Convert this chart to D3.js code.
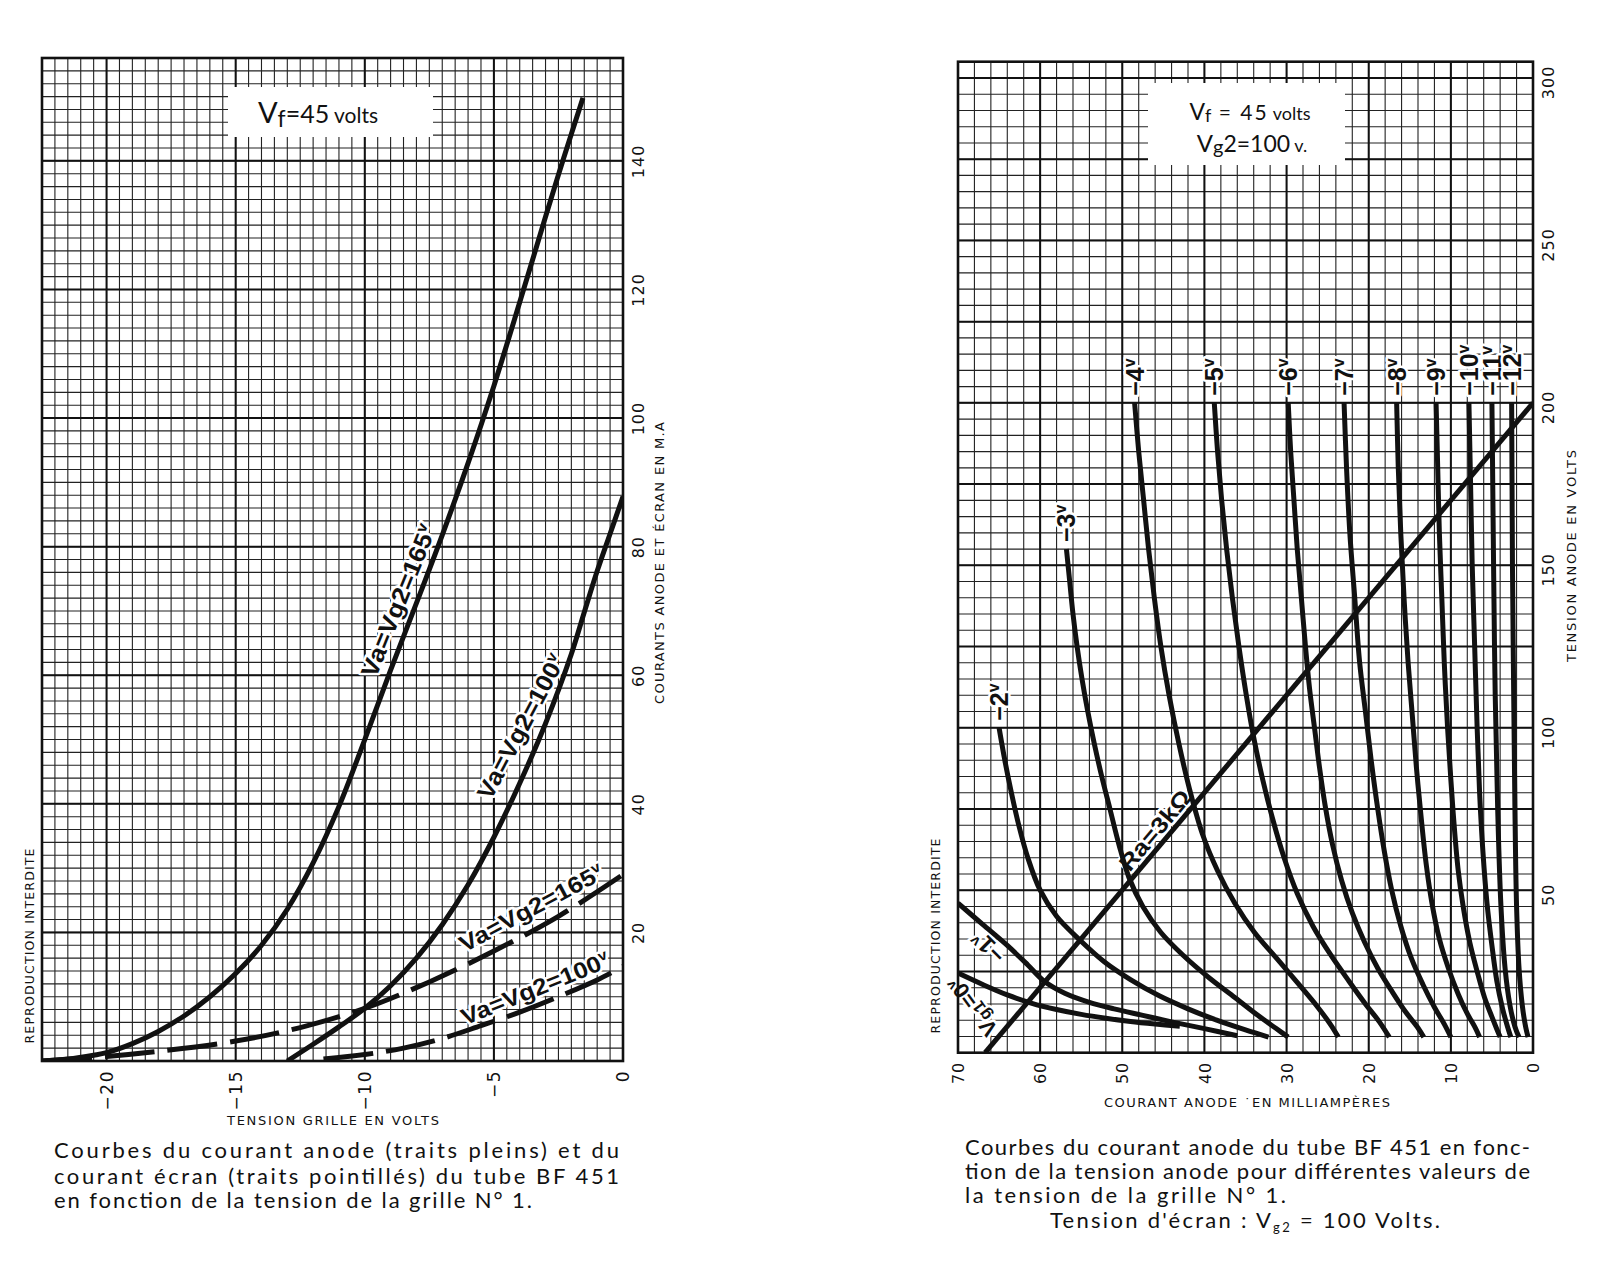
<!DOCTYPE html>
<html>
<head>
<meta charset="utf-8">
<script src="https://cdn.jsdelivr.net/npm/d3@7"></script>
<style>
  body { margin: 0; background: #fff; }
  svg { display: block; }
  .minor { stroke: #222; stroke-width: 1.1; }
  .major { stroke: #111; stroke-width: 2; }
  .frame { fill: none; stroke: #111; stroke-width: 2.6; }
  .curve { fill: none; stroke: #111; stroke-width: 5; stroke-linecap: butt; }
</style>
</head>
<body>
<div id="chart"></div>
<script>
'use strict';

// ---- left plate: grid voltage (V) against anode / screen current (mA)
const anode165 = [[-22.5,0],[-21.5,0.3],[-20.5,0.9],[-20,1.3],[-19,2.7],[-18,4.6],[-17,7],[-16,10],
  [-15,13.6],[-14,18],[-13,23.6],[-12,30.8],[-11,39.6],[-10,50],[-9,60.8],[-8,71.2],[-7,81.8],
  [-6,93],[-5,105],[-4,118],[-3,131.3],[-2.3,140.4],[-1.55,149.8]];
const anode100 = [[-13,0],[-12,2.6],[-11,5.3],[-10,8.2],[-9,11.7],[-8,16],[-7,21.2],[-6,27.4],
  [-5,34.8],[-4,43.2],[-3,52.5],[-2,63.3],[-1.5,69.8],[-1,76.2],[-0.5,82],[0,87.8]];
const screen165 = [[-22.5,0],[-20,0.7],[-18,1.5],[-15,3.1],[-12.5,5.2],[-10,8.2],[-7.5,12.3],
  [-5,17.1],[-2.5,22.5],[0,29]];
const screen100 = [[-11.6,0.3],[-10,1],[-8.5,2],[-7,3.5],[-5.5,5.5],[-4,7.6],[-2.5,10],[-1,12.6],[0,14.7]];
const leftXTicks = [-20, -15, -10, -5, 0];
const leftYTicks = [20, 40, 60, 80, 100, 120, 140];

// ---- right plate: anode current (mA) against anode voltage (V), one curve per grid bias
const vg0 = [[70,24.5],[67,21],[64,17.8],[61,15.2],[58,13.3],[55,11.8],[52,10.6],[49,9.6],[46,8.8],[43,8.1]];
const vg1 = [[70,46],[67,39.5],[64,33],[61.5,27],[59.5,22],[57,18.3],[54,15.5],[51,13.5],[47.5,11.5],
  [44,9.5],[40,7.4],[36,5.2]];
const vg2 = [[65,100],[64.3,90],[63.5,80],[62.6,70],[61.5,60],[60,50],[58,42],[55.3,35],[52.2,28],
  [49,22.5],[45.5,17.5],[42,13.5],[38.5,10],[35,7],[32.2,4.8]];
const vg3 = [[56.8,155],[56.4,145],[56,135],[55.5,125],[54.9,115],[54.2,105],[53.4,95],[52.5,85],
  [51.5,75],[50.4,64],[49.2,54],[47.5,45],[45.3,37],[42.6,30],[39.4,23],[36.3,17],[33.5,11.5],[31.3,7.5],[29.8,4.8]];
const vg4 = [[48.5,200],[48,185],[47.4,170],[46.8,155],[46.1,140],[45.3,125],[44.3,110],[43.1,95],
  [41.8,81],[40.2,67],[38.4,56],[36.3,46],[33.9,37],[31.2,29],[28.5,21],[26.2,14],[24.6,8.5],[23.7,4.8]];
const vg5 = [[38.8,200],[38.4,185],[37.9,170],[37.3,155],[36.6,140],[35.8,125],[34.9,110],[34,97],
  [32.9,84],[31.7,72],[30.3,60],[28.7,49],[26.8,39],[24.6,30],[22.4,22],[20.4,15],[18.7,9.5],[17.5,4.8]];
const vg6 = [[29.8,200],[29.5,185],[29.1,170],[28.7,155],[28.2,140],[27.7,125],[27.2,112],[26.6,100],
  [26,88],[25.3,76],[24.4,64],[23.3,53],[22,43],[20.5,34],[18.9,26],[17.2,19],[15.5,12.5],[14.1,8],[13.3,4.8]];
const vg7 = [[23,200],[22.7,180],[22.3,160],[21.7,140],[21.1,120],[20.4,105],[19.7,90],[18.9,75],
  [18.1,62],[17.2,50],[16.1,39],[14.8,29],[13.4,21],[12,14],[10.8,8.8],[10,4.8]];
const vg8 = [[16.6,200],[16.4,180],[16.1,160],[15.7,140],[15.2,120],[14.7,104],[14.2,88],[13.6,72],
  [13,58],[12.3,46],[11.4,35],[10.3,26],[9.1,18],[8,12],[7.1,8],[6.5,4.8]];
const vg9 = [[11.8,200],[11.6,180],[11.4,160],[11.1,140],[10.8,120],[10.4,100],[10,84],[9.6,70],
  [9.1,56],[8.5,45],[7.7,34],[6.8,25],[5.9,17],[5,11],[4.4,7.2],[4,4.8]];
const vg10 = [[7.8,200],[7.6,175],[7.4,150],[7.1,125],[6.8,100],[6.5,80],[6.1,62],[5.6,46],[5,33],
  [4.4,22],[3.7,13.5],[3.1,8],[2.7,4.8]];
const vg11 = [[5,200],[4.9,175],[4.8,150],[4.6,110],[4.3,75],[3.9,45],[3.4,26],[2.8,14.5],[2.2,8],[1.7,4.8]];
const vg12 = [[2.6,200],[2.55,175],[2.5,150],[2.35,110],[2.2,75],[2,45],[1.7,26],[1.3,14.5],[0.9,8],[0.6,4.8]];
const biasCurves = [vg0, vg1, vg2, vg3, vg4, vg5, vg6, vg7, vg8, vg9, vg10, vg11, vg12];
const biasNames = ['0', '−1', '−2', '−3', '−4', '−5', '−6', '−7', '−8', '−9', '−10', '−11', '−12'];
const loadLine = [[66.7,0],[0,200]];
const rightXTicks = [70, 60, 50, 40, 30, 20, 10, 0];
const rightYTicks = [50, 100, 150, 200, 250, 300];

const W = 1613, H = 1265;
const tickFont = "'DejaVu Sans', sans-serif";
const capFont = "Lato, 'Open Sans', sans-serif";
const markFont = "'Liberation Sans', Arial, sans-serif";

const svg = d3.select('#chart').append('svg').attr('width', W).attr('height', H);
svg.append('rect').attr('width', W).attr('height', H).attr('fill', '#fff');

const xL = d3.scaleLinear().domain([-22.5, 0]).range([42, 623]);
const yL = d3.scaleLinear().domain([0, 156]).range([1061, 58]);
const xR = d3.scaleLinear().domain([70, 0]).range([958, 1533]);
const yR = d3.scaleLinear().domain([0, 305]).range([1052.7, 61.7]);

function drawGrid(x, y, xMinor, xMajor, yMinor, yMajor, clipId) {
    const g = svg.append('g');
    const [xa, xb] = x.range(), [ya, yb] = y.range();

    g.append('g').selectAll('line').data(xMinor).join('line').attr('class', 'minor')
        .attr('x1', d => x(d)).attr('x2', d => x(d)).attr('y1', ya).attr('y2', yb);
    g.append('g').selectAll('line').data(yMinor).join('line').attr('class', 'minor')
        .attr('y1', d => y(d)).attr('y2', d => y(d)).attr('x1', xa).attr('x2', xb);
    g.append('g').selectAll('line').data(xMajor).join('line').attr('class', 'major')
        .attr('x1', d => x(d)).attr('x2', d => x(d)).attr('y1', ya).attr('y2', yb);
    g.append('g').selectAll('line').data(yMajor).join('line').attr('class', 'major')
        .attr('y1', d => y(d)).attr('y2', d => y(d)).attr('x1', xa).attr('x2', xb);

    svg.append('clipPath').attr('id', clipId).append('rect')
        .attr('x', Math.min(xa, xb)).attr('y', Math.min(ya, yb))
        .attr('width', Math.abs(xb - xa)).attr('height', Math.abs(yb - ya));
    return g;
}

function drawFrame(x, y) {
    const [xa, xb] = x.range(), [ya, yb] = y.range();
    svg.append('rect').attr('class', 'frame')
        .attr('x', Math.min(xa, xb)).attr('y', Math.min(ya, yb))
        .attr('width', Math.abs(xb - xa)).attr('height', Math.abs(yb - ya));
}

// bold text with a white halo, optional small raised "v"
function mark(g, txt, sup, px, py, angle, size, len) {
    const t = g.append('text')
        .attr('transform', `translate(${px},${py}) rotate(${angle})`)
        .attr('font-family', markFont).attr('font-weight', 'bold').attr('font-size', size)
        .attr('text-anchor', 'middle').attr('dy', '0.35em')
        .attr('fill', '#111').attr('stroke', '#fff').attr('stroke-width', 5)
        .attr('stroke-linejoin', 'round').attr('paint-order', 'stroke');
    if (len) t.attr('textLength', len).attr('lengthAdjust', 'spacingAndGlyphs');
    t.append('tspan').text(txt);
    if (sup) t.append('tspan').attr('font-size', size * 0.62).attr('dy', -size * 0.38).text(sup);
    return t;
}

// ================= left plate =================
const gridL = drawGrid(xL, yL,
    d3.range(-22.5, 0.01, 0.5), [-20, -15, -10, -5],
    d3.range(0, 156.1, 2), leftYTicks, 'clipL');

// title box
gridL.append('rect').attr('x', 228).attr('y', 87).attr('width', 205).attr('height', 50).attr('fill', '#fff');
const ttlL = svg.append('text').attr('x', 318).attr('y', 123).attr('text-anchor', 'middle')
    .attr('font-family', capFont).attr('fill', '#111');
ttlL.append('tspan').attr('font-size', 29).text('V');
ttlL.append('tspan').attr('font-size', 23).attr('dy', 4).text('f');
ttlL.append('tspan').attr('font-size', 25).attr('dy', -4).text('=45');
ttlL.append('tspan').attr('font-size', 21).text(' volts');

const lineL = d3.line().x(d => xL(d[0])).y(d => yL(d[1])).curve(d3.curveCatmullRom.alpha(0.5));

const labL = svg.append('g');
mark(labL, 'Va=Vg2=165', 'v', xL(-8.7), yL(71.6), -68, 24, 162);
mark(labL, 'Va=Vg2=100', 'v', xL(-3.95), yL(52), -62, 24, 160);
mark(labL, 'Va=Vg2=165', 'v', xL(-3.55), yL(23.8), -28, 23, 160);
mark(labL, 'Va=Vg2=100', 'v', xL(-3.4), yL(11.3), -22, 23, 158);

const curvesL = svg.append('g').attr('clip-path', 'url(#clipL)');
[anode165, anode100].forEach(s => curvesL.append('path').attr('class', 'curve').attr('d', lineL(s)));
[screen165, screen100].forEach(s => curvesL.append('path').attr('class', 'curve')
    .attr('stroke-dasharray', '50,13').attr('d', lineL(s)));

drawFrame(xL, yL);

const axLB = svg.append('g').attr('transform', `translate(0,${yL(0)})`)
    .call(d3.axisBottom(xL).tickValues(leftXTicks).tickSize(0).tickFormat(d => d < 0 ? '−' + (-d) : d));
axLB.select('.domain').remove();
axLB.attr('font-family', tickFont).attr('font-size', 17);
axLB.selectAll('text').attr('transform', 'rotate(-90)').attr('x', -9).attr('y', 0)
    .attr('dy', '0.35em').attr('text-anchor', 'end').attr('letter-spacing', 1.5).attr('fill', '#111');

const axLR = svg.append('g').attr('transform', `translate(${xL(0)},0)`)
    .call(d3.axisRight(yL).tickValues(leftYTicks).tickSize(0));
axLR.select('.domain').remove();
axLR.attr('font-family', tickFont).attr('font-size', 16);
axLR.selectAll('text').attr('transform', 'translate(15,0) rotate(-90)').attr('x', 0).attr('y', 0)
    .attr('dy', '0.35em').attr('text-anchor', 'middle').attr('letter-spacing', 1).attr('fill', '#111');

svg.append('text').attr('x', 333).attr('y', 1125).attr('text-anchor', 'middle')
    .attr('font-family', tickFont).attr('font-size', 13).attr('textLength', 212)
    .attr('fill', '#111').text('TENSION GRILLE EN VOLTS');
svg.append('text').attr('transform', 'translate(664,563) rotate(-90)').attr('text-anchor', 'middle')
    .attr('font-family', tickFont).attr('font-size', 13).attr('textLength', 282)
    .attr('fill', '#111').text('COURANTS ANODE ET ÉCRAN EN M.A');
svg.append('text').attr('transform', 'translate(34,946) rotate(-90)').attr('text-anchor', 'middle')
    .attr('font-family', tickFont).attr('font-size', 12.5).attr('textLength', 195)
    .attr('fill', '#111').text('REPRODUCTION INTERDITE');

// ================= right plate =================
const gridR = drawGrid(xR, yR,
    d3.range(0, 70.1, 2), d3.range(10, 61, 10),
    d3.range(0, 305.1, 5), d3.range(25, 301, 25), 'clipR');

gridR.append('rect').attr('x', 1148).attr('y', 83).attr('width', 197).attr('height', 82).attr('fill', '#fff');
const ttlR1 = svg.append('text').attr('x', 1250).attr('y', 120).attr('text-anchor', 'middle')
    .attr('font-family', capFont).attr('fill', '#111');
ttlR1.append('tspan').attr('font-size', 23).text('V');
ttlR1.append('tspan').attr('font-size', 18).attr('dy', 2).text('f');
ttlR1.append('tspan').attr('font-size', 21).attr('dy', -2).attr('letter-spacing', 2).text(' = 45');
ttlR1.append('tspan').attr('font-size', 18).text(' volts');
const ttlR2 = svg.append('text').attr('x', 1252).attr('y', 152).attr('text-anchor', 'middle')
    .attr('font-family', capFont).attr('fill', '#111');
ttlR2.append('tspan').attr('font-size', 24).text('V');
ttlR2.append('tspan').attr('font-size', 20).attr('dy', 2).text('g');
ttlR2.append('tspan').attr('font-size', 23).attr('dy', -2).text('2=100');
ttlR2.append('tspan').attr('font-size', 18).text(' v.');

const lineR = d3.line().x(d => xR(d[0])).y(d => yR(d[1])).curve(d3.curveCatmullRom.alpha(0.5));

const labR = svg.append('g');
// bias labels above the top end of each curve (from -2 v on)
biasCurves.forEach((s, i) => {
    if (i < 2) return;
    const top = s[0];
    labR.append('text')
        .attr('transform', `translate(${xR(top[0])},${yR(top[1]) - 7}) rotate(-90)`)
        .attr('font-family', markFont).attr('font-weight', 'bold').attr('font-size', 25)
        .attr('dy', '0.36em').attr('fill', '#111').attr('stroke', '#fff').attr('stroke-width', 5)
        .attr('stroke-linejoin', 'round').attr('paint-order', 'stroke')
        .call(t => t.append('tspan').text(biasNames[i]))
        .call(t => t.append('tspan').attr('font-size', 16).attr('dy', -9).text('v'));
});
mark(labR, '−1', 'v', xR(66.3), yR(32.5), -135, 24);
const v0 = labR.append('text')
    .attr('transform', `translate(${xR(68.2)},${yR(14.2)}) rotate(-126)`)
    .attr('font-family', markFont).attr('font-weight', 'bold').attr('font-size', 22)
    .attr('text-anchor', 'middle').attr('dy', '0.35em').attr('fill', '#111')
    .attr('stroke', '#fff').attr('stroke-width', 5).attr('stroke-linejoin', 'round').attr('paint-order', 'stroke');
v0.append('tspan').text('V');
v0.append('tspan').attr('font-size', 17).attr('dy', 3).text('g1');
v0.append('tspan').attr('dy', -3).text('=0');
v0.append('tspan').attr('font-size', 14).attr('dy', -8).text('v');
mark(labR, 'Ra=3kΩ', null, xR(46), yR(68.5), -50, 23, 98);

const curvesR = svg.append('g').attr('clip-path', 'url(#clipR)');
biasCurves.forEach(s => curvesR.append('path').attr('class', 'curve').attr('d', lineR(s)));
curvesR.append('path').attr('class', 'curve').attr('stroke-width', 4.5)
    .attr('d', d3.line().x(d => xR(d[0])).y(d => yR(d[1]))(loadLine));

drawFrame(xR, yR);

const axRB = svg.append('g').attr('transform', `translate(0,${yR(0)})`)
    .call(d3.axisBottom(xR).tickValues(rightXTicks).tickSize(0));
axRB.select('.domain').remove();
axRB.attr('font-family', tickFont).attr('font-size', 16);
axRB.selectAll('text').attr('transform', 'rotate(-90)').attr('x', -9).attr('y', 0)
    .attr('dy', '0.35em').attr('text-anchor', 'end').attr('letter-spacing', 1).attr('fill', '#111');

const axRR = svg.append('g').attr('transform', `translate(${xR(0)},0)`)
    .call(d3.axisRight(yR).tickValues(rightYTicks).tickSize(0));
axRR.select('.domain').remove();
axRR.attr('font-family', tickFont).attr('font-size', 16);
axRR.selectAll('text').attr('transform', 'translate(15,4) rotate(-90)').attr('x', 0).attr('y', 0)
    .attr('dy', '0.35em').attr('text-anchor', 'middle').attr('letter-spacing', 1).attr('fill', '#111');

svg.append('text').attr('x', 1247).attr('y', 1107).attr('text-anchor', 'middle')
    .attr('font-family', tickFont).attr('font-size', 13).attr('textLength', 286)
    .attr('fill', '#111').text('COURANT ANODE ˙EN MILLIAMPÈRES');
svg.append('text').attr('transform', 'translate(1576,556) rotate(-90)').attr('text-anchor', 'middle')
    .attr('font-family', tickFont).attr('font-size', 13).attr('textLength', 212)
    .attr('fill', '#111').text('TENSION ANODE EN VOLTS');
svg.append('text').attr('transform', 'translate(940,936) rotate(-90)').attr('text-anchor', 'middle')
    .attr('font-family', tickFont).attr('font-size', 12.5).attr('textLength', 195)
    .attr('fill', '#111').text('REPRODUCTION INTERDITE');

// ================= captions =================
function caption(x, y, len, parts) {
    const t = svg.append('text').attr('x', x).attr('y', y)
        .attr('font-family', capFont).attr('font-size', 22).attr('fill', '#111')
        .attr('textLength', len).attr('lengthAdjust', 'spacing');
    parts.forEach(p => {
        const s = t.append('tspan').text(p.t);
        if (p.sub) s.attr('font-size', 13).attr('dy', 4);
        if (p.up) s.attr('dy', -4);
    });
}
caption(54, 1158, 565, [{t: 'Courbes du courant anode (traits pleins) et du'}]);
caption(54, 1184, 565, [{t: 'courant écran (traits pointillés) du tube BF 451'}]);
caption(54, 1208, 478, [{t: 'en fonction de la tension de la grille N° 1.'}]);

caption(965, 1155, 565, [{t: 'Courbes du courant anode du tube BF 451 en fonc-'}]);
caption(965, 1179, 565, [{t: 'tion de la tension anode pour différentes valeurs de'}]);
caption(965, 1203, 321, [{t: 'la tension de la grille N° 1.'}]);
caption(1050, 1228, 390, [{t: 'Tension d\'écran : V'}, {t: 'g2', sub: true}, {t: ' = 100 Volts.', up: true}]);
</script>
</body>
</html>
